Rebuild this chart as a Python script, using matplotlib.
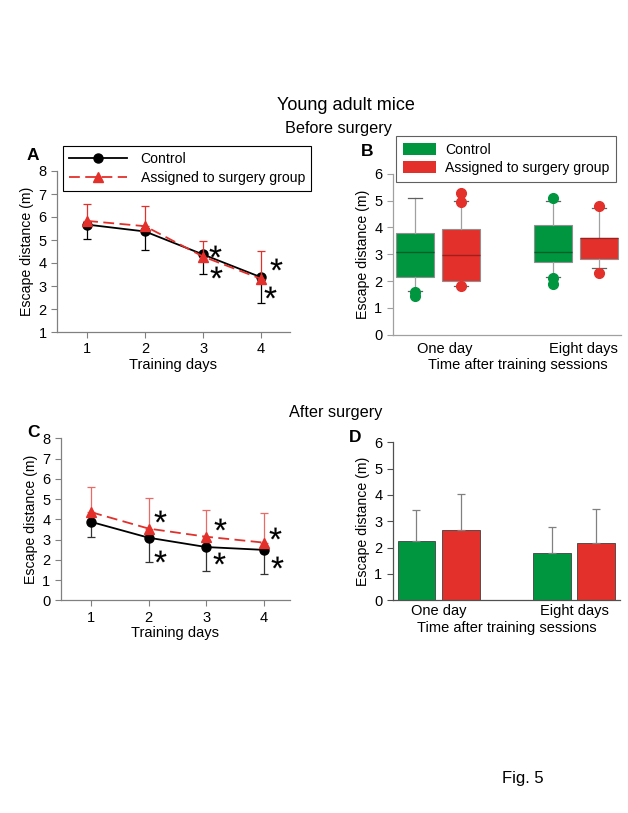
import numpy as np
import matplotlib
matplotlib.use("Agg")
import matplotlib.pyplot as plt
from matplotlib.patches import Patch
from matplotlib.lines import Line2D
import matplotlib.transforms as mtransforms

plt.rcParams['font.family'] = ['Liberation Sans', 'DejaVu Sans']
plt.rcParams['font.size'] = 10
plt.rcParams['mathtext.fontset'] = 'custom'
plt.rcParams['mathtext.rm'] = 'Liberation Sans'
plt.rcParams['mathtext.it'] = 'Liberation Sans'

# ---- data ----
days = [1, 2, 3, 4]

# A: before surgery, training days
a_ctrl = [5.67, 5.37, 4.37, 3.38]
a_ctrl_err = [0.64, 0.82, 0.84, 1.11]
a_surg = [5.83, 5.60, 4.28, 3.31]
a_surg_err = [0.73, 0.86, 0.69, 1.19]
a_star_x = [3.21, 3.23, 4.25, 4.15]
a_star_y = [4.50, 3.60, 3.97, 2.73]

# B: boxplots, time after training
groups = ["One day", "Eight days"]
b_ctrl_q1 = [2.14, 2.72]
b_ctrl_med = [3.09, 3.09]
b_ctrl_q3 = [3.78, 4.09]
b_ctrl_lo = [1.63, 2.16]
b_ctrl_hi = [5.08, 4.98]
b_ctrl_out = [[1.59, 1.45], [5.08, 2.10, 1.88]]
b_surg_q1 = [1.99, 2.81]
b_surg_med = [2.98, 3.59]
b_surg_q3 = [3.94, 3.59]
b_surg_lo = [1.81, 2.50]
b_surg_hi = [4.98, 4.71]
b_surg_out = [[5.29, 4.96, 1.80], [4.81, 2.29]]

# C: after surgery, training days
c_ctrl = [3.87, 3.09, 2.63, 2.49]
c_ctrl_err = [0.74, 1.20, 1.20, 1.19]
c_surg = [4.35, 3.54, 3.14, 2.85]
c_surg_err = [1.23, 1.53, 1.32, 1.45]
c_star_x = [2.19, 2.20, 3.24, 3.23, 4.20, 4.24]
c_star_y = [4.18, 2.19, 3.77, 2.10, 3.31, 1.91]

# D: bars, time after training
d_ctrl = [2.25, 1.78]
d_ctrl_err = [1.17, 1.02]
d_surg = [2.66, 2.19]
d_surg_err = [1.39, 1.27]

green = '#00963f'
red = '#e3302b'
W, H = 628, 813

fig = plt.figure(figsize=(6.28, 8.13), dpi=100)


def box(l, t, r, b):
    return [l / W, 1 - b / H, (r - l) / W, (b - t) / H]


def style(ax, sc='#808080'):
    for s in ['top', 'right']:
        ax.spines[s].set_visible(False)
    for s in ['left', 'bottom']:
        ax.spines[s].set_color(sc)
        ax.spines[s].set_linewidth(0.9)
    ax.tick_params(colors=sc, labelcolor='black', labelsize=10.5, length=4, width=0.8)


def stars(ax, xs, ys):
    # significance asterisks drawn as glyph markers
    ax.plot(xs, ys, ls='none', marker='$*$', ms=8.5, color='black', mew=0.1, zorder=5)


# ---- A ----
axA = fig.add_axes(box(57, 171, 290, 332))
style(axA)
axA.errorbar(days, a_ctrl, yerr=[a_ctrl_err, [0] * 4], color='black', lw=1.3,
             marker='o', ms=6.5, ecolor='black', elinewidth=0.9, capsize=3, capthick=0.9, zorder=3)
axA.errorbar(days, a_surg, yerr=[[0] * 4, a_surg_err], color=red, lw=1.3, ls=(0, (6, 3)),
             marker='^', ms=6.5, ecolor=red, elinewidth=0.9, capsize=3, capthick=0.9, zorder=4)
axA.set_xlim(0.48, 4.5)
axA.set_ylim(1, 8)
axA.set_xticks(days)
axA.set_yticks(range(1, 9))
axA.set_xlabel('Training days', fontsize=10.5, labelpad=1)
axA.set_ylabel('Escape distance (m)', fontsize=10.2, labelpad=3)
stars(axA, a_star_x, a_star_y)
legA = fig.legend(handles=[Line2D([], [], color='black', marker='o', ms=6.5, lw=1.3),
                           Line2D([], [], color=red, marker='^', ms=6.5, lw=1.3, ls=(0, (6, 3)))],
                  labels=['Control', 'Assigned to surgery group'],
                  loc='upper left', bbox_to_anchor=(62.7 / W, 1 - 145.7 / H), fontsize=10.1,
                  frameon=True, fancybox=False, edgecolor='black', framealpha=1,
                  handlelength=4.1, handletextpad=1.0, borderpad=0.45, labelspacing=0.35,
                  borderaxespad=0)
legA.get_frame().set_linewidth(0.8)

# ---- B ----
axB = fig.add_axes(box(392.7, 173.7, 621, 334.7))
style(axB, '#a0a0a0')
off, bw = 0.167, 0.275
pos = np.arange(1, len(groups) + 1)
for i in range(len(groups)):
    for (q1, med, q3, lo, hi, out, col, dcol, sh) in [
            (b_ctrl_q1, b_ctrl_med, b_ctrl_q3, b_ctrl_lo, b_ctrl_hi, b_ctrl_out, green, '#00602a', -off),
            (b_surg_q1, b_surg_med, b_surg_q3, b_surg_lo, b_surg_hi, b_surg_out, red, '#9e1f1b', off)]:
        st = [dict(med=med[i], q1=q1[i], q3=q3[i], whislo=lo[i], whishi=hi[i], fliers=out[i])]
        axB.bxp(st, positions=[pos[i] + sh], widths=bw, patch_artist=True, showcaps=True,
                boxprops=dict(facecolor=col, edgecolor='#909090', lw=0.8),
                medianprops=dict(color=dcol, lw=1.0),
                whiskerprops=dict(color='#a0a0a0', lw=0.9),
                capprops=dict(color='#606060', lw=0.9), capwidths=0.1,
                flierprops=dict(marker='o', markerfacecolor=col, markeredgecolor=col, ms=7))
axB.set_xlim(0.672, 2.326)
axB.set_ylim(0, 6)
axB.set_yticks(range(0, 7))
axB.set_xticks(pos)
axB.set_xticklabels(groups)
axB.tick_params(axis='x', length=0, pad=5)
for lab in axB.get_xticklabels():
    lab.set_transform(lab.get_transform() + mtransforms.ScaledTranslation(7 / 100, 0, fig.dpi_scale_trans))
axB.set_xlabel('Time after training sessions', fontsize=10.5, labelpad=2)
axB.xaxis.set_label_coords(0.55, -0.145)
axB.set_ylabel('Escape distance (m)', fontsize=10.2, labelpad=3)
legB = fig.legend(handles=[Patch(facecolor=green, edgecolor='none'), Patch(facecolor=red, edgecolor='none')],
                  labels=['Control', 'Assigned to surgery group'],
                  loc='upper left', bbox_to_anchor=(395.7 / W, 1 - 135.7 / H), fontsize=10.1,
                  frameon=True, fancybox=False, edgecolor='#606060', framealpha=1,
                  handlelength=2.4, handleheight=0.9, handletextpad=0.6, borderpad=0.5,
                  labelspacing=0.3, borderaxespad=0)
legB.get_frame().set_linewidth(0.8)

# ---- C ----
axC = fig.add_axes(box(60.7, 438.3, 290, 600.3))
style(axC)
axC.errorbar(days, c_ctrl, yerr=[c_ctrl_err, [0] * 4], color='black', lw=1.3,
             marker='o', ms=6.5, ecolor='#333333', elinewidth=0.9, capsize=3, capthick=0.9, zorder=3)
axC.errorbar(days, c_surg, yerr=[[0] * 4, c_surg_err], color=red, lw=1.3, ls=(0, (6, 3)),
             marker='^', ms=6.5, ecolor='#ec6a66', elinewidth=0.9, capsize=3, capthick=0.9, zorder=4)
axC.set_xlim(0.468, 4.46)
axC.set_ylim(0, 8)
axC.set_xticks(days)
axC.set_yticks(range(0, 9))
axC.set_xlabel('Training days', fontsize=10.5, labelpad=1)
axC.set_ylabel('Escape distance (m)', fontsize=10.2, labelpad=3)
stars(axC, c_star_x, c_star_y)

# ---- D ----
axD = fig.add_axes(box(392.7, 442.3, 620, 600.3))
style(axD, '#505050')
bw = 0.28
axD.bar(pos - 0.165, d_ctrl, width=bw, color=green, edgecolor='#404040', lw=0.6,
        yerr=[[0, 0], d_ctrl_err], ecolor='#808080', error_kw=dict(elinewidth=0.9, capsize=3, capthick=0.9))
axD.bar(pos + 0.165, d_surg, width=bw, color=red, edgecolor='#404040', lw=0.6,
        yerr=[[0, 0], d_surg_err], ecolor='#808080', error_kw=dict(elinewidth=0.9, capsize=3, capthick=0.9))
axD.set_xlim(0.659, 2.34)
axD.set_ylim(0, 6)
axD.set_yticks(range(0, 7))
axD.set_xticks(pos)
axD.set_xticklabels(groups)
axD.tick_params(axis='x', length=0, pad=3)
axD.set_xlabel('Time after training sessions', fontsize=10.5, labelpad=2)
axD.set_ylabel('Escape distance (m)', fontsize=10.2, labelpad=3)

# ---- titles & panel letters ----
fig.text(346 / W, 1 - 105 / H, 'Young adult mice', fontsize=13, ha='center', va='center')
fig.text(338 / W, 1 - 128 / H, 'Before surgery', fontsize=11.7, ha='center', va='center')
fig.text(336 / W, 1 - 412 / H, 'After surgery', fontsize=11.7, ha='center', va='center')
fig.text(523 / W, 1 - 778 / H, 'Fig. 5', fontsize=12, ha='center', va='center')
for lbl, x, y in [('A', 33, 155), ('B', 367, 152), ('C', 33, 432), ('D', 355, 437)]:
    fig.text(x / W, 1 - y / H, lbl, fontsize=12.5, fontweight='bold', ha='center', va='center')

fig.savefig('out.png', dpi=100)
